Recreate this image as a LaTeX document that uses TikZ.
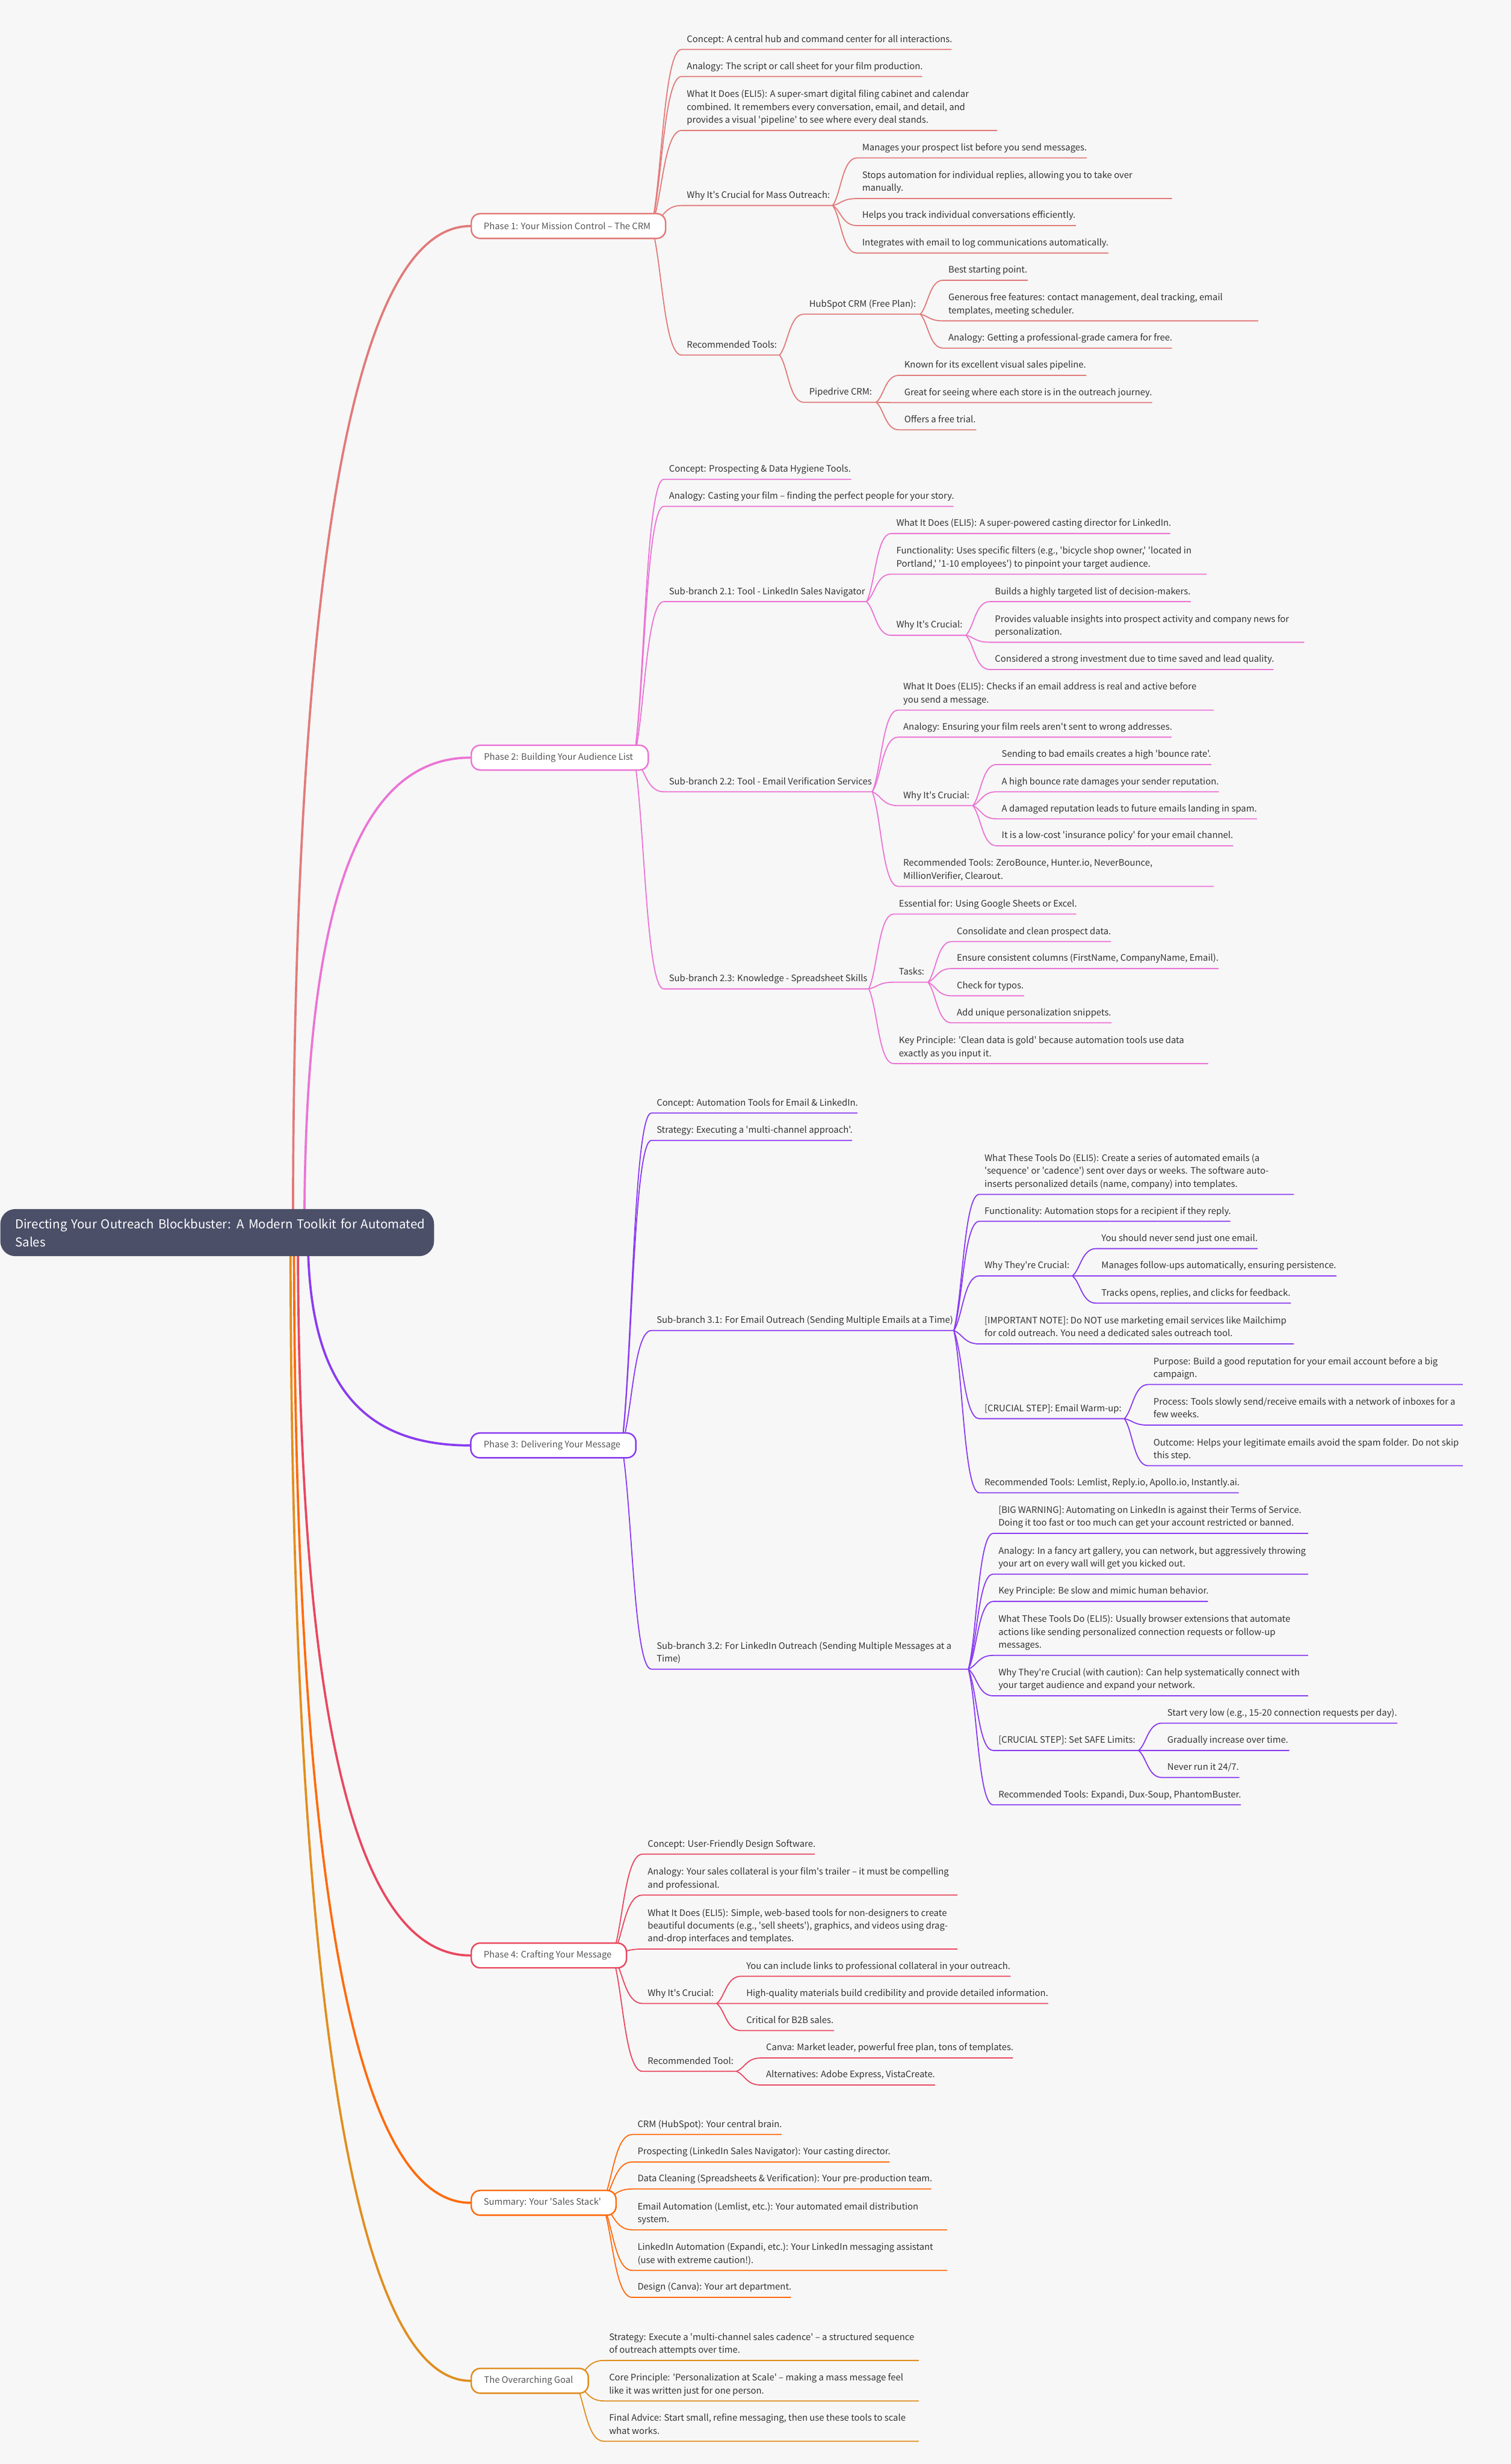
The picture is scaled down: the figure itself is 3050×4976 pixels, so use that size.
\documentclass[tikz,border=0pt]{standalone}
\usepackage{fontspec}
\setmainfont{Noto Sans CJK SC}[Ligatures=TeXOff]
\usetikzlibrary{calc, backgrounds}

\definecolor{paper}{HTML}{F7F7F7}
\definecolor{slate}{HTML}{4B4F68}
\definecolor{inktext}{HTML}{333333}
\definecolor{greytext}{HTML}{555555}
\definecolor{coral}{HTML}{E27A7A}
\definecolor{orchid}{HTML}{EB74D5}
\definecolor{violet}{HTML}{8A3BF0}
\definecolor{crimson}{HTML}{E9475F}
\definecolor{tangerine}{HTML}{FF6A0C}
\definecolor{amber}{HTML}{E08E1E}

\begin{document}
\begin{tikzpicture}[x=0.01cm, y=-0.01cm]
\tikzstyle{title} = [rectangle, fill=slate, rounded corners=0.3cm, text=white, align=left, anchor=north west, text width=8.75cm, minimum height=0.95cm, inner sep=0, font=\fontsize{7.07pt}{10.25pt}\selectfont]
\tikzstyle{phase} = [rectangle, fill=white, rounded corners=0.18cm, line width=0.03cm, text=greytext, anchor=west, minimum height=0.5cm, inner sep=0, execute at end node={\hspace{0.05cm}}, font=\fontsize{5.1pt}{7.4pt}\selectfont]
\tikzstyle{leaf} = [anchor=south west, align=left, text=inktext, inner xsep=0.1cm, inner ysep=0, text depth=0.14cm, font=\fontsize{5.13pt}{7.4pt}\selectfont]
\tikzstyle{link} = [line width=0.022cm, to path={.. controls ($.4*(\tikztostart)+.35*(\tikztotarget |- \tikztostart)+.25*(\tikztostart |- \tikztotarget)$) and ($(\tikztostart |- \tikztotarget)!.4!(\tikztotarget)$) .. (\tikztotarget)}]
\tikzstyle{trunk} = [line width=0.045cm, to path={.. controls ($(\tikztostart)!.62!(\tikztostart |- \tikztotarget)$) and (700,0 |- \tikztotarget) .. (\tikztotarget)}]

\useasboundingbox (0,0) rectangle (3050,4976);

\node (root) [title] at (0,2441) {\hspace*{0.3cm}Directing Your Outreach Blockbuster: A Modern Toolkit for Automated\\\hspace*{0.3cm}Sales};

\node (p1) [phase, draw=coral, minimum width=3.92cm] at (950,456.5) {Phase 1: Your Mission Control – The CRM};
\node (p1a) [leaf] at (1376,100) {Concept: A central hub and command center for all interactions.};
\node (p1b) [leaf] at (1376,154.5) {Analogy: The script or call sheet for your film production.};
\node (p1c) [leaf] at (1376,263.5) {What It Does (ELI5): A super-smart digital filing cabinet and calendar\\combined. It remembers every conversation, email, and detail, and\\provides a visual 'pipeline' to see where every deal stands.};
\node (p1d) [leaf] at (1376,415) {Why It's Crucial for Mass Outreach:};
\node (p1da) [leaf] at (1730,319) {Manages your prospect list before you send messages.};
\node (p1db) [leaf] at (1730,401) {Stops automation for individual replies, allowing you to take over\\manually.};
\node (p1dc) [leaf] at (1730,455.6) {Helps you track individual conversations efficiently.};
\node (p1dd) [leaf] at (1730,511) {Integrates with email to log communications automatically.};
\node (p1e) [leaf] at (1376,717) {Recommended Tools:};
\node (p1ea) [leaf] at (1623,634.5) {HubSpot CRM (Free Plan):};
\node (p1eaa) [leaf] at (1904,566) {Best starting point.};
\node (p1eab) [leaf] at (1904,648) {Generous free features: contact management, deal tracking, email\\templates, meeting scheduler.};
\node (p1eac) [leaf] at (1904,703) {Analogy: Getting a professional-grade camera for free.};
\node (p1eb) [leaf] at (1623,812.5) {Pipedrive CRM:};
\node (p1eba) [leaf] at (1815,758) {Known for its excellent visual sales pipeline.};
\node (p1ebb) [leaf] at (1815,813) {Great for seeing where each store is in the outreach journey.};
\node (p1ebc) [leaf] at (1815,868) {Offers a free trial.};

\node (p2) [phase, draw=orchid, minimum width=3.57cm] at (950,1530) {Phase 2: Building Your Audience List};
\node (p2a) [leaf] at (1340,968) {Concept: Prospecting \& Data Hygiene Tools.};
\node (p2b) [leaf] at (1340,1022.7) {Analogy: Casting your film – finding the perfect people for your story.};
\node (p2c) [leaf] at (1340,1215) {Sub-branch 2.1: Tool - LinkedIn Sales Navigator};
\node (p2ca) [leaf] at (1799,1077.4) {What It Does (ELI5): A super-powered casting director for LinkedIn.};
\node (p2cb) [leaf] at (1799,1159.5) {Functionality: Uses specific filters (e.g., 'bicycle shop owner,' 'located in\\Portland,' '1-10 employees') to pinpoint your target audience.};
\node (p2cc) [leaf] at (1799,1283) {Why It's Crucial:};
\node (p2cca) [leaf] at (1998,1215) {Builds a highly targeted list of decision-makers.};
\node (p2ccb) [leaf] at (1998,1297) {Provides valuable insights into prospect activity and company news for\\personalization.};
\node (p2ccc) [leaf] at (1998,1352) {Considered a strong investment due to time saved and lead quality.};
\node (p2d) [leaf] at (1340,1599) {Sub-branch 2.2: Tool - Email Verification Services};
\node (p2da) [leaf] at (1813,1434) {What It Does (ELI5): Checks if an email address is real and active before\\you send a message.};
\node (p2db) [leaf] at (1813,1488.6) {Analogy: Ensuring your film reels aren't sent to wrong addresses.};
\node (p2dc) [leaf] at (1813,1627) {Why It's Crucial:};
\node (p2dca) [leaf] at (2011.6,1544) {Sending to bad emails creates a high 'bounce rate'.};
\node (p2dcb) [leaf] at (2011.6,1599) {A high bounce rate damages your sender reputation.};
\node (p2dcc) [leaf] at (2011.6,1653.6) {A damaged reputation leads to future emails landing in spam.};
\node (p2dcd) [leaf] at (2011.6,1708) {It is a low-cost 'insurance policy' for your email channel.};
\node (p2dd) [leaf] at (1813,1790) {Recommended Tools: ZeroBounce, Hunter.io, NeverBounce,\\MillionVerifier, Clearout.};
\node (p2e) [leaf] at (1340,1997) {Sub-branch 2.3: Knowledge - Spreadsheet Skills};
\node (p2ea) [leaf] at (1804,1846) {Essential for: Using Google Sheets or Excel.};
\node (p2eb) [leaf] at (1804,1983.6) {Tasks:};
\node (p2eba) [leaf] at (1921,1901.5) {Consolidate and clean prospect data.};
\node (p2ebb) [leaf] at (1921,1956) {Ensure consistent columns (FirstName, CompanyName, Email).};
\node (p2ebc) [leaf] at (1921,2011) {Check for typos.};
\node (p2ebd) [leaf] at (1921,2065.6) {Add unique personalization snippets.};
\node (p2ec) [leaf] at (1804,2148) {Key Principle: 'Clean data is gold' because automation tools use data\\exactly as you input it.};

\node (p3) [phase, draw=violet, minimum width=3.33cm] at (949,2919) {Phase 3: Delivering Your Message};
\node (p3a) [leaf] at (1315,2247.7) {Concept: Automation Tools for Email \& LinkedIn.};
\node (p3b) [leaf] at (1315,2303) {Strategy: Executing a 'multi-channel approach'.};
\node (p3c) [leaf] at (1315,2687) {Sub-branch 3.1: For Email Outreach (Sending Multiple Emails at a Time)};
\node (p3ca) [leaf] at (1977,2412) {What These Tools Do (ELI5): Create a series of automated emails (a\\'sequence' or 'cadence') sent over days or weeks. The software auto-\\inserts personalized details (name, company) into templates.};
\node (p3cb) [leaf] at (1977,2466.4) {Functionality: Automation stops for a recipient if they reply.};
\node (p3cc) [leaf] at (1977,2576.6) {Why They're Crucial:};
\node (p3cca) [leaf] at (2213,2521.5) {You should never send just one email.};
\node (p3ccb) [leaf] at (2213,2576.6) {Manages follow-ups automatically, ensuring persistence.};
\node (p3ccc) [leaf] at (2213,2631.7) {Tracks opens, replies, and clicks for feedback.};
\node (p3cd) [leaf] at (1977,2714) {[IMPORTANT NOTE]: Do NOT use marketing email services like Mailchimp\\for cold outreach. You need a dedicated sales outreach tool.};
\node (p3ce) [leaf] at (1977,2865) {[CRUCIAL STEP]: Email Warm-up:};
\node (p3cea) [leaf] at (2318,2796) {Purpose: Build a good reputation for your email account before a big\\campaign.};
\node (p3ceb) [leaf] at (2318,2878) {Process: Tools slowly send/receive emails with a network of inboxes for a\\few weeks.};
\node (p3cec) [leaf] at (2318,2960) {Outcome: Helps your legitimate emails avoid the spam folder. Do not skip\\this step.};
\node (p3cf) [leaf] at (1977,3014.6) {Recommended Tools: Lemlist, Reply.io, Apollo.io, Instantly.ai.};
\node (p3d) [leaf] at (1315,3370.8) {Sub-branch 3.2: For LinkedIn Outreach (Sending Multiple Messages at a\\Time)};
\node (p3da) [leaf] at (2005,3096.7) {[BIG WARNING]: Automating on LinkedIn is against their Terms of Service.\\Doing it too fast or too much can get your account restricted or banned.};
\node (p3db) [leaf] at (2005,3178.8) {Analogy: In a fancy art gallery, you can network, but aggressively throwing\\your art on every wall will get you kicked out.};
\node (p3dc) [leaf] at (2005,3234) {Key Principle: Be slow and mimic human behavior.};
\node (p3dd) [leaf] at (2005,3343) {What These Tools Do (ELI5): Usually browser extensions that automate\\actions like sending personalized connection requests or follow-up\\messages.};
\node (p3de) [leaf] at (2005,3424.6) {Why They're Crucial (with caution): Can help systematically connect with\\your target audience and expand your network.};
\node (p3df) [leaf] at (2005,3535) {[CRUCIAL STEP]: Set SAFE Limits:};
\node (p3dfa) [leaf] at (2346,3479.8) {Start very low (e.g., 15-20 connection requests per day).};
\node (p3dfb) [leaf] at (2346,3535) {Gradually increase over time.};
\node (p3dfc) [leaf] at (2346,3589.6) {Never run it 24/7.};
\node (p3dg) [leaf] at (2005,3644.8) {Recommended Tools: Expandi, Dux-Soup, PhantomBuster.};

\node (p4) [phase, draw=crimson, minimum width=3.13cm] at (950,3949) {Phase 4: Crafting Your Message};
\node (p4a) [leaf] at (1297,3744.5) {Concept: User-Friendly Design Software.};
\node (p4b) [leaf] at (1297,3827) {Analogy: Your sales collateral is your film's trailer – it must be compelling\\and professional.};
\node (p4c) [leaf] at (1297,3936) {What It Does (ELI5): Simple, web-based tools for non-designers to create\\beautiful documents (e.g., 'sell sheets'), graphics, and videos using drag-\\and-drop interfaces and templates.};
\node (p4d) [leaf] at (1297,4046) {Why It's Crucial:};
\node (p4da) [leaf] at (1496,3991) {You can include links to professional collateral in your outreach.};
\node (p4db) [leaf] at (1496,4046) {High-quality materials build credibility and provide detailed information.};
\node (p4dc) [leaf] at (1496,4100.7) {Critical for B2B sales.};
\node (p4e) [leaf] at (1297,4183) {Recommended Tool:};
\node (p4ea) [leaf] at (1536,4156) {Canva: Market leader, powerful free plan, tons of templates.};
\node (p4eb) [leaf] at (1536,4210.6) {Alternatives: Adobe Express, VistaCreate.};

\node (p5) [phase, draw=tangerine, minimum width=2.92cm] at (950,4448.5) {Summary: Your 'Sales Stack'};
\node (p5a) [leaf] at (1276.4,4310.6) {CRM (HubSpot): Your central brain.};
\node (p5b) [leaf] at (1276.4,4366) {Prospecting (LinkedIn Sales Navigator): Your casting director.};
\node (p5c) [leaf] at (1276.4,4420.5) {Data Cleaning (Spreadsheets \& Verification): Your pre-production team.};
\node (p5d) [leaf] at (1276.4,4503) {Email Automation (Lemlist, etc.): Your automated email distribution\\system.};
\node (p5e) [leaf] at (1276.4,4585) {LinkedIn Automation (Expandi, etc.): Your LinkedIn messaging assistant\\(use with extreme caution!).};
\node (p5f) [leaf] at (1276.4,4639.5) {Design (Canva): Your art department.};

\node (p6) [phase, draw=amber, minimum width=2.36cm] at (950,4808) {The Overarching Goal};
\node (p6a) [leaf] at (1219,4766.8) {Strategy: Execute a 'multi-channel sales cadence' – a structured sequence\\of outreach attempts over time.};
\node (p6b) [leaf] at (1219,4848.6) {Core Principle: 'Personalization at Scale' – making a mass message feel\\like it was written just for one person.};
\node (p6c) [leaf] at (1219,4930) {Final Advice: Start small, refine messaging, then use these tools to scale\\what works.};

\begin{scope}[on background layer]
\fill [paper] (0,0) rectangle (3050,4976);

\draw [trunk, coral] ($(root.center)+(153,0)$) to (p1.west);
\draw [trunk, orchid] ($(root.center)+(176,0)$) to (p2.west);
\draw [trunk, violet] ($(root.center)+(183,0)$) to (p3.west);
\draw [trunk, crimson] ($(root.center)+(163,0)$) to (p4.west);
\draw [trunk, tangerine] ($(root.center)+(155,0)$) to (p5.west);
\draw [trunk, amber] ($(root.center)+(148,0)$) to (p6.west);

\coordinate (p1out) at ([xshift=-0.3cm]p1.east);
\draw [link, coral] (p1out) to (p1a.south west) -- ++(545,0);
\draw [link, coral] (p1out) to (p1b.south west) -- ++(486,0);
\draw [link, coral] (p1out) to (p1c.south west) -- ++(637,0);
\draw [link, coral] (p1out) to (p1d.south west) -- ++(305,0) coordinate (p1dend);
\draw [link, coral] (p1dend) to (p1da.south west) -- ++(464,0);
\draw [link, coral] (p1dend) to (p1db.south west) -- ++(636,0);
\draw [link, coral] (p1dend) to (p1dc.south west) -- ++(442,0);
\draw [link, coral] (p1dend) to (p1dd.south west) -- ++(508,0);
\draw [link, coral] (p1out) to (p1e.south west) -- ++(198,0) coordinate (p1eend);
\draw [link, coral] (p1eend) to (p1ea.south west) -- ++(235,0) coordinate (p1eaend);
\draw [link, coral] (p1eaend) to (p1eaa.south west) -- ++(171,0);
\draw [link, coral] (p1eaend) to (p1eab.south west) -- ++(636,0);
\draw [link, coral] (p1eaend) to (p1eac.south west) -- ++(462,0);
\draw [link, coral] (p1eend) to (p1eb.south west) -- ++(146,0) coordinate (p1ebend);
\draw [link, coral] (p1ebend) to (p1eba.south west) -- ++(378,0);
\draw [link, coral] (p1ebend) to (p1ebb.south west) -- ++(511,0);
\draw [link, coral] (p1ebend) to (p1ebc.south west) -- ++(156,0);

\coordinate (p2out) at ([xshift=-0.3cm]p2.east);
\draw [link, orchid] (p2out) to (p2a.south west) -- ++(378.5,0);
\draw [link, orchid] (p2out) to (p2b.south west) -- ++(585,0);
\draw [link, orchid] (p2out) to (p2c.south west) -- ++(409.5,0) coordinate (p2cend);
\draw [link, orchid] (p2cend) to (p2ca.south west) -- ++(563.5,0);
\draw [link, orchid] (p2cend) to (p2cb.south west) -- ++(637,0);
\draw [link, orchid] (p2cend) to (p2cc.south west) -- ++(151,0) coordinate (p2ccend);
\draw [link, orchid] (p2ccend) to (p2cca.south west) -- ++(406,0);
\draw [link, orchid] (p2ccend) to (p2ccb.south west) -- ++(635,0);
\draw [link, orchid] (p2ccend) to (p2ccc.south west) -- ++(573,0);
\draw [link, orchid] (p2out) to (p2d.south west) -- ++(421,0) coordinate (p2dend);
\draw [link, orchid] (p2dend) to (p2da.south west) -- ++(637,0);
\draw [link, orchid] (p2dend) to (p2db.south west) -- ++(552,0);
\draw [link, orchid] (p2dend) to (p2dc.south west) -- ++(151,0) coordinate (p2dcend);
\draw [link, orchid] (p2dcend) to (p2dca.south west) -- ++(434,0);
\draw [link, orchid] (p2dcend) to (p2dcb.south west) -- ++(449,0);
\draw [link, orchid] (p2dcend) to (p2dcc.south west) -- ++(526,0);
\draw [link, orchid] (p2dcend) to (p2dcd.south west) -- ++(478,0);
\draw [link, orchid] (p2dend) to (p2dd.south west) -- ++(637,0);
\draw [link, orchid] (p2out) to (p2e.south west) -- ++(414,0) coordinate (p2eend);
\draw [link, orchid] (p2eend) to (p2ea.south west) -- ++(369,0);
\draw [link, orchid] (p2eend) to (p2eb.south west) -- ++(69.5,0) coordinate (p2ebend);
\draw [link, orchid] (p2ebend) to (p2eba.south west) -- ++(322,0);
\draw [link, orchid] (p2ebend) to (p2ebb.south west) -- ++(539,0);
\draw [link, orchid] (p2ebend) to (p2ebc.south west) -- ++(146.5,0);
\draw [link, orchid] (p2ebend) to (p2ebd.south west) -- ++(323,0);
\draw [link, orchid] (p2eend) to (p2ec.south west) -- ++(635,0);

\coordinate (p3out) at ([xshift=-0.3cm]p3.east);
\draw [link, violet] (p3out) to (p3a.south west) -- ++(416,0);
\draw [link, violet] (p3out) to (p3b.south west) -- ++(405,0);
\draw [link, violet] (p3out) to (p3c.south west) -- ++(610.6,0) coordinate (p3cend);
\draw [link, violet] (p3cend) to (p3ca.south west) -- ++(635,0);
\draw [link, violet] (p3cend) to (p3cb.south west) -- ++(507,0);
\draw [link, violet] (p3cend) to (p3cc.south west) -- ++(188,0) coordinate (p3ccend);
\draw [link, violet] (p3ccend) to (p3cca.south west) -- ++(326,0);
\draw [link, violet] (p3ccend) to (p3ccb.south west) -- ++(485,0);
\draw [link, violet] (p3ccend) to (p3ccc.south west) -- ++(393,0);
\draw [link, violet] (p3cend) to (p3cd.south west) -- ++(635,0);
\draw [link, violet] (p3cend) to (p3ce.south west) -- ++(293,0) coordinate (p3ceend);
\draw [link, violet] (p3ceend) to (p3cea.south west) -- ++(635,0);
\draw [link, violet] (p3ceend) to (p3ceb.south west) -- ++(635,0);
\draw [link, violet] (p3ceend) to (p3cec.south west) -- ++(635,0);
\draw [link, violet] (p3cend) to (p3cf.south west) -- ++(524,0);
\draw [link, violet] (p3out) to (p3d.south west) -- ++(640,0) coordinate (p3dend);
\draw [link, violet] (p3dend) to (p3da.south west) -- ++(636,0);
\draw [link, violet] (p3dend) to (p3db.south west) -- ++(636,0);
\draw [link, violet] (p3dend) to (p3dc.south west) -- ++(433.7,0);
\draw [link, violet] (p3dend) to (p3dd.south west) -- ++(636,0);
\draw [link, violet] (p3dend) to (p3de.south west) -- ++(636,0);
\draw [link, violet] (p3dend) to (p3df.south west) -- ++(293.6,0) coordinate (p3dfend);
\draw [link, violet] (p3dfend) to (p3dfa.south west) -- ++(475,0);
\draw [link, violet] (p3dfend) to (p3dfb.south west) -- ++(257,0);
\draw [link, violet] (p3dfend) to (p3dfc.south west) -- ++(156,0);
\draw [link, violet] (p3dend) to (p3dg.south west) -- ++(500,0);

\coordinate (p4out) at ([xshift=-0.3cm]p4.east);
\draw [link, crimson] (p4out) to (p4a.south west) -- ++(348,0);
\draw [link, crimson] (p4out) to (p4b.south west) -- ++(636,0);
\draw [link, crimson] (p4out) to (p4c.south west) -- ++(636,0);
\draw [link, crimson] (p4out) to (p4d.south west) -- ++(150,0) coordinate (p4dend);
\draw [link, crimson] (p4dend) to (p4da.south west) -- ++(544,0);
\draw [link, crimson] (p4dend) to (p4db.south west) -- ++(620,0);
\draw [link, crimson] (p4dend) to (p4dc.south west) -- ++(188,0);
\draw [link, crimson] (p4out) to (p4e.south west) -- ++(190,0) coordinate (p4eend);
\draw [link, crimson] (p4eend) to (p4ea.south west) -- ++(509,0);
\draw [link, crimson] (p4eend) to (p4eb.south west) -- ++(351.6,0);

\coordinate (p5out) at ([xshift=-0.3cm]p5.east);
\draw [link, tangerine] (p5out) to (p5a.south west) -- ++(301.6,0);
\draw [link, tangerine] (p5out) to (p5b.south west) -- ++(519.6,0);
\draw [link, tangerine] (p5out) to (p5c.south west) -- ++(603.6,0);
\draw [link, tangerine] (p5out) to (p5d.south west) -- ++(635.6,0);
\draw [link, tangerine] (p5out) to (p5e.south west) -- ++(635.6,0);
\draw [link, tangerine] (p5out) to (p5f.south west) -- ++(320.6,0);

\coordinate (p6out) at ([xshift=-0.3cm]p6.east);
\draw [link, amber] (p6out) to (p6a.south west) -- ++(636,0);
\draw [link, amber] (p6out) to (p6b.south west) -- ++(636,0);
\draw [link, amber] (p6out) to (p6c.south west) -- ++(636,0);
\end{scope}
\end{tikzpicture}
\end{document}
